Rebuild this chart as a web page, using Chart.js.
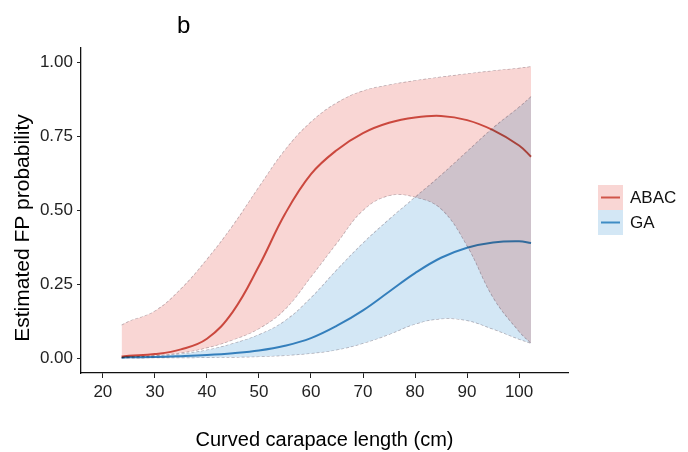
<!DOCTYPE html>
<html>
<head>
<meta charset="utf-8">
<script src="https://cdn.jsdelivr.net/npm/chart.js@4.4.1/dist/chart.umd.min.js"></script>
<style>
  html, body { margin: 0; padding: 0; background: #fff; }
  canvas { display: block; }
</style>
</head>
<body>
<canvas id="chart" width="688" height="452"></canvas>
<script>
  // curved carapace length (cm)
  const ccl = [23.6, 25, 30, 35, 40, 45, 50, 55, 60, 65, 70, 75, 80, 85, 90, 95, 100, 102.3];

  const abacFit  = [0.006, 0.008, 0.014, 0.03, 0.066, 0.158, 0.312, 0.488, 0.623, 0.705, 0.762, 0.797, 0.815, 0.82, 0.806, 0.772, 0.72, 0.682];
  const abacHigh = [0.112, 0.125, 0.16, 0.235, 0.335, 0.45, 0.58, 0.705, 0.80, 0.865, 0.905, 0.925, 0.94, 0.952, 0.963, 0.973, 0.982, 0.987];
  const abacLow  = [0.002, 0.003, 0.009, 0.018, 0.035, 0.062, 0.10, 0.165, 0.275, 0.39, 0.50, 0.55, 0.545, 0.505, 0.38, 0.205, 0.09, 0.05];

  const gaFit  = [0.002, 0.003, 0.004, 0.007, 0.011, 0.017, 0.026, 0.042, 0.068, 0.11, 0.162, 0.225, 0.288, 0.34, 0.374, 0.392, 0.396, 0.39];
  const gaHigh = [0.003, 0.004, 0.008, 0.015, 0.028, 0.05, 0.08, 0.127, 0.205, 0.30, 0.39, 0.47, 0.545, 0.62, 0.70, 0.78, 0.85, 0.886];
  const gaLow  = [0, 0, 0.001, 0.001, 0.002, 0.003, 0.005, 0.009, 0.016, 0.028, 0.05, 0.08, 0.115, 0.133, 0.127, 0.098, 0.064, 0.05];

  const xTicks = [20, 30, 40, 50, 60, 70, 80, 90, 100];
  const yTicks = [0, 0.25, 0.5, 0.75, 1];

  const groups = ['ABAC', 'GA'];
  const lineColors = ['#D0564A', '#3E8CC4'];
  const bandColors = ['#F9D6D4', '#D3E7F5'];

  const FONT = '"Liberation Sans", Arial, sans-serif';
  const pts = (ys) => ccl.map((x, i) => ({ x: x, y: ys[i] }));

  const band = (ys, color, fill) => ({
    data: pts(ys),
    borderColor: 'rgba(130,115,125,0.55)',
    borderWidth: 0.7,
    borderDash: [3, 2],
    backgroundColor: color,
    fill: fill,
    pointRadius: 0,
    tension: 0.4,
    order: 2
  });

  const line = (ys, color) => ({
    data: pts(ys),
    borderColor: color,
    borderWidth: 2,
    fill: false,
    pointRadius: 0,
    tension: 0.4,
    order: 0
  });

  const decor = {
    id: 'decor',
    beforeDraw(chart) {
      // ribbons overlap like ggplot's alpha bands
      chart.ctx.globalCompositeOperation = 'multiply';
    },
    afterDraw(chart) {
      const ctx = chart.ctx;
      const area = chart.chartArea;
      ctx.save();
      ctx.globalCompositeOperation = 'source-over';
      ctx.fillStyle = '#000';

      ctx.font = '24px ' + FONT;
      ctx.textAlign = 'left';
      ctx.textBaseline = 'alphabetic';
      ctx.fillText('b', 177, 33);

      ctx.font = '20px ' + FONT;
      ctx.textAlign = 'center';
      ctx.fillText('Curved carapace length (cm)', (area.left + area.right) / 2, 446);

      ctx.save();
      ctx.translate(29, 228);
      ctx.rotate(-Math.PI / 2);
      ctx.font = '21px ' + FONT;
      ctx.fillText('Estimated FP probability', 0, 0);
      ctx.restore();

      // legend
      groups.forEach((g, i) => {
        const top = 185 + i * 25;
        ctx.fillStyle = bandColors[i];
        ctx.fillRect(598, top, 25, 25);
        ctx.strokeStyle = lineColors[i];
        ctx.lineWidth = 2;
        ctx.beginPath();
        ctx.moveTo(601, top + 12.5);
        ctx.lineTo(620, top + 12.5);
        ctx.stroke();
        ctx.fillStyle = '#111';
        ctx.font = '17px ' + FONT;
        ctx.textAlign = 'left';
        ctx.textBaseline = 'middle';
        ctx.fillText(g, 630, top + 13);
      });
      ctx.restore();
    }
  };

  new Chart(
    document.getElementById('chart'),
    {
      type: 'line',
      data: {
        datasets: [
          band(abacHigh, bandColors[0], '+1'),
          band(abacLow, bandColors[0], false),
          band(gaHigh, bandColors[1], '+1'),
          band(gaLow, bandColors[1], false),
          line(abacFit, lineColors[0]),
          line(gaFit, lineColors[1])
        ]
      },
      plugins: [decor],
      options: {
        responsive: false,
        animation: false,
        devicePixelRatio: 1,
        layout: {
          padding: { left: 0, right: 120, top: 48, bottom: 0 }
        },
        plugins: {
          legend: { display: false },
          tooltip: { enabled: false }
        },
        scales: {
          x: {
            type: 'linear',
            min: 15.8,
            max: 109.4,
            afterFit: (s) => { s.height = 79; },
            afterBuildTicks: (s) => { s.ticks = xTicks.map(v => ({ value: v })); },
            grid: {
              drawOnChartArea: false,
              tickLength: 5,
              color: '#222'
            },
            border: { color: '#111', width: 1.3 },
            ticks: {
              color: '#222',
              padding: 4,
              maxRotation: 0,
              font: { size: 17, family: FONT }
            }
          },
          y: {
            min: -0.05,
            max: 1.05,
            afterFit: (s) => { s.width = 81; },
            afterBuildTicks: (s) => { s.ticks = yTicks.map(v => ({ value: v })); },
            grid: {
              drawOnChartArea: false,
              tickLength: 4,
              color: '#222'
            },
            border: { color: '#111', width: 1.3 },
            ticks: {
              color: '#222',
              padding: 4,
              font: { size: 17, family: FONT },
              callback: (v) => Number(v).toFixed(2)
            }
          }
        }
      }
    }
  );
</script>
</body>
</html>
